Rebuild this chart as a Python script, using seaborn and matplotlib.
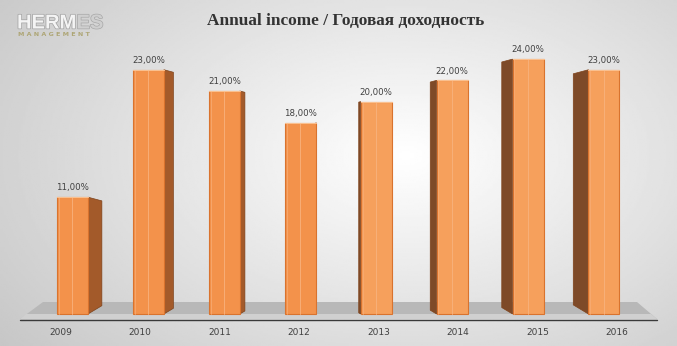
import numpy as np
import pandas as pd
import matplotlib
matplotlib.use("Agg")
import matplotlib.pyplot as plt
from matplotlib.patches import Polygon
import matplotlib.patheffects as pe
import seaborn as sns

years = ["2009", "2010", "2011", "2012", "2013", "2014", "2015", "2016"]
income = [11, 23, 21, 18, 20, 22, 24, 23]
value_labels = ["11,00%", "23,00%", "21,00%", "18,00%", "20,00%", "22,00%", "24,00%", "23,00%"]
title = "Annual income / Годовая доходность"

df = pd.DataFrame({"year": years, "income": income})

sns.set_theme(style="white")
plt.rcParams["font.family"] = ["DejaVu Sans"]

W, H = 677, 346
fig = plt.figure(figsize=(W / 100, H / 100), dpi=100)

def fxy(x, y):
    return (x / W, 1 - y / H)

# background gradient
bg = fig.add_axes([0, 0, 1, 1], zorder=0)
xx = np.linspace(0, 1, 400)
yy = np.linspace(0, 1, 200)
X, Y = np.meshgrid(xx, yy)
R = np.sqrt(((X - 0.6) / 0.75) ** 2 + ((Y - 0.55) / 0.9) ** 2)
Z = 1 - 0.22 * np.clip(R, 0, 1.1)
bg.imshow(Z, cmap="gray", vmin=0, vmax=1, aspect="auto", extent=[0, 1, 0, 1], origin="lower")
bg.set_axis_off()

px_per_unit = 79.5
x0_px = 60.5
axis_px = 320.0
zero_px = 314.0
px_per_pct = 10.62

ax = fig.add_axes([0, (H - axis_px) / H, 1, axis_px / H], zorder=1)
ax.patch.set_alpha(0)

# floor platform (decoration)
ax.add_patch(Polygon([fxy(20, 319), fxy(657, 319), fxy(637, 302), fxy(43, 302)],
                     closed=True, transform=fig.transFigure, facecolor="#b8b8b8",
                     edgecolor="none", zorder=1))
ax.add_patch(Polygon([fxy(20, 319), fxy(657, 319), fxy(651, 314), fxy(26, 314)],
                     closed=True, transform=fig.transFigure, facecolor="#d0d0d0",
                     edgecolor="none", zorder=1))
ax.plot([20 / W, 657 / W], [1 - 320 / H, 1 - 320 / H], transform=fig.transFigure,
        color="#3a3a3a", linewidth=1.0, zorder=2, clip_on=False)

sns.barplot(data=df, x="year", y="income", color="#F3924B", width=0.39,
            saturation=1, edgecolor="#D9732E", linewidth=0.8, ax=ax, zorder=3)

ax.set_xlim(-x0_px / px_per_unit, (W - x0_px) / px_per_unit)
ax.set_ylim(-(axis_px - zero_px) / px_per_pct, zero_px / px_per_pct)

n = len(years)
vx = (327 - x0_px) / px_per_unit  # perspective vanishing column
bars = list(ax.patches[2:])
for i, p in enumerate(bars):
    shift = 0.045 * (vx - (p.get_x() + p.get_width() / 2))
    p.set_x(p.get_x() + shift)
    bx0 = p.get_x()
    bw = p.get_width()
    bh = p.get_height()
    bx1 = bx0 + bw
    left_side = bx0 + bw / 2 < vx
    edge = bx1 if left_side else bx0
    sw = 0.058 * abs(vx - edge)
    ratio = sw * px_per_unit / 15.0
    rise = 9 * ratio / px_per_pct
    drop = 4 * ratio / px_per_pct
    sgn = 1 if left_side else -1
    side = [[edge, 0], [edge + sgn * sw, rise], [edge + sgn * sw, bh - drop], [edge, bh]]
    ax.add_patch(Polygon(side, closed=True,
                         facecolor="#A35A2A" if left_side else "#7E4A28",
                         edgecolor="#7E421A", linewidth=0.5, zorder=2))
    if not left_side:
        p.set_facecolor("#F6A05C")
    cx = bx0 + bw / 2
    ax.plot([cx, cx], [0, bh], color="#F8B27E", linewidth=0.6, zorder=5)
    ax.plot([bx0 + bw * 0.06, bx0 + bw * 0.06], [0, bh], color="#F8AE78",
            linewidth=0.5, zorder=5)
    ax.plot([bx0, bx1], [bh, bh], color="#FAC08F", linewidth=0.8, zorder=5)
    ax.text(cx, bh + 0.45, value_labels[i], ha="center", va="bottom",
            fontsize=6.2, color="#404040", zorder=6)

ax.set_xlabel("")
ax.set_ylabel("")
ax.set_yticks([])
ax.tick_params(axis="x", length=0, pad=6, labelsize=6.5, labelcolor="#404040")
for s in ax.spines.values():
    s.set_visible(False)

fig.text(346 / W, 1 - 21 / H, title, ha="center", va="center",
         fontsize=12.4, fontweight="bold", family=["Liberation Serif", "DejaVu Serif"],
         color="#333333", zorder=5)

# logo
t1 = fig.text(17 / W, 1 - 23 / H, "HERM", ha="left", va="center", fontsize=14.5,
              fontweight="bold", color="#f4f4f4", family=["Liberation Sans", "DejaVu Sans"],
              zorder=5, path_effects=[pe.withStroke(linewidth=1.0, foreground="#a0a0a0")])
fig.canvas.draw()
bb = t1.get_window_extent()
fig.text(bb.x1 / W, 1 - 23 / H, "ES", ha="left", va="center", fontsize=14.5,
         fontweight="bold", color="#cfcfcf", family=["Liberation Sans", "DejaVu Sans"],
         zorder=5, path_effects=[pe.withStroke(linewidth=1.0, foreground="#a8a8a8")])
fig.text(18 / W, 1 - 34 / H, "M A N A G E M E N T", ha="left", va="center",
         fontsize=4.6, fontweight="bold", color="#aea676", zorder=5)

fig.savefig("out.png", dpi=100)
